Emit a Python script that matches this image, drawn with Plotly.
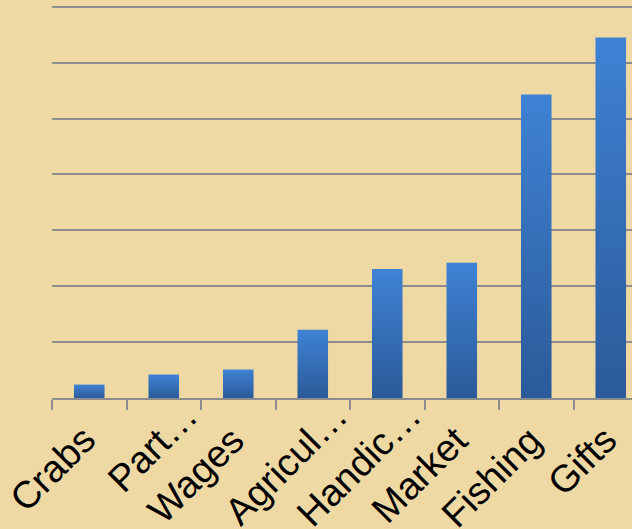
import plotly.graph_objects as go

# Income sources (units = gridline steps)
categories = ['Crabs', 'Part\u2026', 'Wages', 'Agricul\u2026', 'Handic\u2026',
              'Market', 'Fishing', 'Gifts']
values = [0.24, 0.42, 0.51, 1.22, 2.31, 2.42, 5.43, 6.45]

grid_color = '#8c8c8c'
bar_width = 0.41
bar_fill = [[0, '#2b5a99'], [1, '#3f82d4']]  # dark bottom -> light top

fig = go.Figure()

# one filled shape per bar so each gets its own top-to-bottom gradient
for i, (cat, val) in enumerate(zip(categories, values)):
    x0, x1 = i - bar_width / 2, i + bar_width / 2
    fig.add_trace(go.Scatter(
        x=[x0, x0, x1, x1, x0],
        y=[0, val, val, 0, 0],
        mode='lines',
        line=dict(width=0),
        fill='toself',
        fillgradient=dict(type='vertical', colorscale=bar_fill),
        name=cat,
        hoverinfo='name+y',
    ))

# category labels as rotated annotations: the clipped ("…") labels sit
# further up the diagonal than the full ones, like in the original
for i, cat in enumerate(categories):
    clipped = cat.endswith('\u2026')
    fig.add_annotation(
        x=i, y=0, xref='x', yref='y',
        text=cat,
        showarrow=False,
        textangle=-45,
        xanchor='right', yanchor='top',
        xshift=45 if clipped else 16.5,
        yshift=6.4 if clipped else -17.6,
        font=dict(size=38, color='black'),
    )

fig.update_layout(
    width=632,
    height=529,
    margin=dict(l=52, r=0, t=4, b=131, autoexpand=False),
    paper_bgcolor='#eed8a4',
    plot_bgcolor='#eed8a4',
    showlegend=False,
    font=dict(family='Liberation Sans, Arial, sans-serif', color='black'),
    xaxis=dict(
        range=[-0.5, 7.285],
        automargin=False,
        showgrid=False,
        zeroline=False,
        showline=True,
        linecolor=grid_color,
        linewidth=2,
        ticks='outside',
        tickvals=[i - 0.5 for i in range(len(categories))],
        ticklen=10,
        tickwidth=2,
        tickcolor=grid_color,
        showticklabels=False,
    ),
    yaxis=dict(
        range=[0, 7.05],
        dtick=1,
        automargin=False,
        showgrid=True,
        gridcolor=grid_color,
        gridwidth=1.5,
        zeroline=False,
        showticklabels=False,
        ticks='',
    ),
)

# drop the browser's default body margin so the chart sits at the corner
fig.write_html('out.html', config={'displayModeBar': False},
               post_script="document.body.style.margin='0';")
